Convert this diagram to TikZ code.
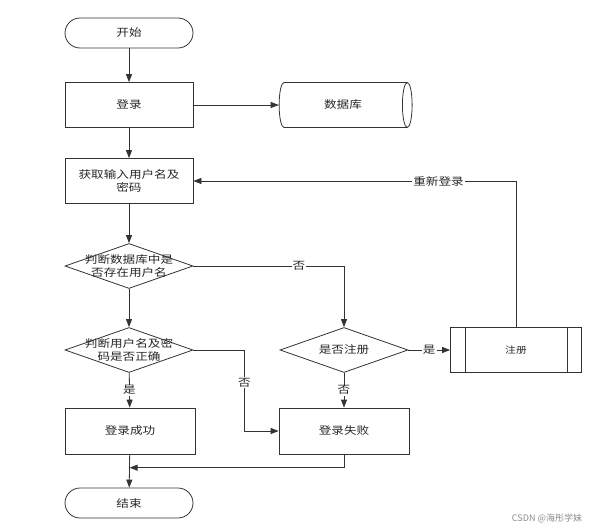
\documentclass[tikz,border=0pt]{standalone}
\usepackage{fontspec}
\usepackage{tikz}
\usetikzlibrary{shapes.geometric, arrows.meta, positioning, calc}
\setmainfont{Noto Sans CJK SC}[FakeStretch=1.2]
\newfontfamily\cjkplain{Noto Sans CJK SC}

\tikzset{
    base/.style={draw=black!80, line width=0.8pt, font=\fontsize{10.5}{12.5}\selectfont, text=black!85, align=center, inner sep=0pt},
    terminal/.style={base, rectangle, rounded corners=15pt, minimum width=128pt, minimum height=30pt},
    process/.style={base, rectangle, minimum width=128pt, minimum height=45pt},
    decision/.style={base, diamond, aspect=2.85, minimum width=128pt, minimum height=45pt},
    storage/.style={base, cylinder, shape aspect=1.0, minimum height=133pt, minimum width=45pt},
    flow/.style={-{Triangle[length=8pt, width=6pt]}, draw=black!80, line width=0.8pt},
    tag/.style={fill=white, inner sep=1pt, font=\fontsize{10.5}{12.5}\selectfont, text=black!85},
    every label/.style={align=center, font=\fontsize{10.5}{12.5}\selectfont, text=black!85}
}

\begin{document}
\begin{tikzpicture}[x=1pt, y=-1pt]
\useasboundingbox (0,0) rectangle (600,530);

% Main column
\node[terminal] (start) at (129,33) {开始};
\node[process] (login) at (129,105) {登录};
\node[storage] (db) at (343,105) {数据库};
\node[process] (input) at (129,181) {获取输入用户名及\\密码};
\node[decision, label=center:{判断数据库中是\\否存在用户名}] (judge1) at (129,266) {};
\node[decision, label=center:{判断用户名及密\\码是否正确}] (judge2) at (129,350) {};
\node[process, minimum width=130pt, minimum height=46pt] (ok) at (130,431) {登录成功};
\node[terminal] (end) at (129,503) {结束};

% Right branch
\node[decision] (askreg) at (344,350) {是否注册};
\node[process, minimum width=130pt, minimum height=46pt] (fail) at (344,431) {登录失败};
\node[process, minimum width=131pt, font=\fontsize{9}{11}\selectfont] (reg) at (516,350) {注册};
\draw[black!80, line width=0.8pt] ([xshift=15pt]reg.north west) -- ([xshift=15pt]reg.south west);
\draw[black!80, line width=0.8pt] ([xshift=-15pt]reg.north east) -- ([xshift=-15pt]reg.south east);

\coordinate (merge) at ($(ok.south)!0.4!(end.north)$);

% Connectors
\draw[flow] (start) -- (login);
\draw[flow] (login) -- (db);
\draw[flow] (login) -- (input);
\draw[flow] (input) -- (judge1);
\draw[flow] (judge1.east) -| node[tag, pos=0.35] {否} (askreg.north);
\draw[flow] (judge1) -- (judge2);
\draw[flow] (judge2) -- node[tag] {是} (ok);
\draw[flow] (judge2.east) -- ++(51,0) |- node[tag, pos=0.2] {否} (fail.west);
\draw[flow] (askreg) -- node[tag] {否} (fail);
\draw[flow] (askreg) -- node[tag] {是} (reg);
\draw[flow] (reg.north) |- node[tag, pos=0.62] {重新登录} (input.east);
\draw[flow] (ok) -- (end);
\draw[flow] (fail.south) |- (merge);

% Watermark
\node[font=\cjkplain\fontsize{9}{11}\selectfont, text=black!45] (mark) at (547,518) {CSDN @海彤学妹};
\end{tikzpicture}
\end{document}
